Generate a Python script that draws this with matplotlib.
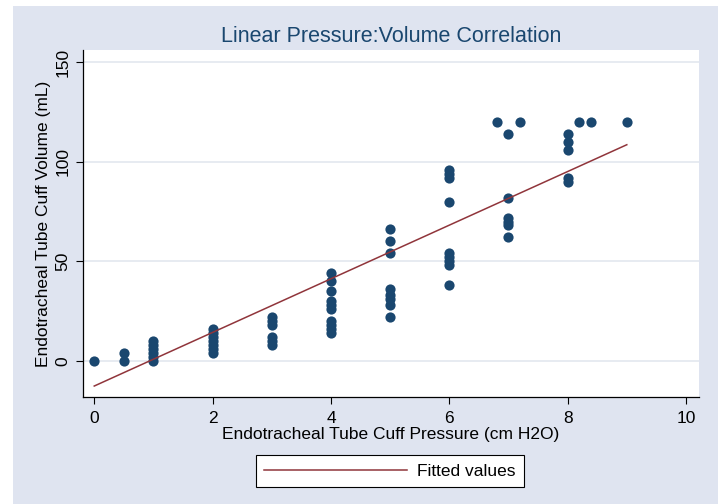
import numpy as np
import matplotlib
matplotlib.use("Agg")
import matplotlib.pyplot as plt
from matplotlib.patches import Rectangle
from matplotlib.lines import Line2D

plt.rcParams['font.family'] = ['Liberation Sans', 'DejaVu Sans']

# cuff pressure (cm H2O) and cuff volume (mL)
pressure = [0,
            0.5, 0.5,
            1, 1, 1, 1, 1, 1,
            2, 2, 2, 2, 2, 2, 2,
            3, 3, 3, 3, 3, 3,
            4, 4, 4, 4, 4, 4, 4, 4, 4, 4,
            5, 5, 5, 5, 5, 5, 5, 5,
            6, 6, 6, 6, 6, 6, 6, 6, 6,
            6.8,
            7, 7, 7, 7, 7, 7,
            7.2,
            8, 8, 8, 8, 8,
            8.2, 8.4, 9]
volume = [0,
          0, 4,
          0, 2, 4, 6, 8, 10,
          4, 6, 8, 10, 12, 14, 16,
          8, 10, 12, 18, 20, 22,
          14, 16, 18, 20, 26, 28, 30, 35, 40, 44,
          22, 28, 31, 33, 36, 54, 60, 66,
          38, 48, 50, 52, 54, 80, 92, 94, 96,
          120,
          62, 68, 70, 72, 82, 114,
          120,
          90, 92, 106, 110, 114,
          120, 120, 120]

# fitted line end points as drawn in the chart (the fit used duplicate
# points that overlap in the scatter, so it is read off, not refitted)
fit_pressure = [0, 9]
fit_volume = [-12.5, 108.5]

title = "Linear Pressure:Volume Correlation"
xlabel = "Endotracheal Tube Cuff Pressure (cm H2O)"
ylabel = "Endotracheal Tube Cuff Volume (mL)"
xticks = [0, 2, 4, 6, 8, 10]
yticks = [0, 50, 100, 150]

navy = "#1a476f"
maroon = "#90353b"
bg = "#dfe4f0"

fig = plt.figure(figsize=(7.18, 5.04), dpi=100, facecolor="white")
fig.patches.append(Rectangle((13 / 718, 0), 705 / 718, 498 / 504,
                             transform=fig.transFigure, facecolor=bg,
                             edgecolor="none", zorder=-10))

ax = fig.add_axes([83 / 718, 107 / 504, 616 / 718, 347 / 504])
ax.set_facecolor("white")

ax.scatter(pressure, volume, s=54, color=navy, zorder=3, linewidths=0)
ax.plot(fit_pressure, fit_volume, color=maroon, lw=1.1, zorder=4)

ax.set_xlim(-0.19, 10.22)
ax.set_ylim(-18, 156)
ax.set_xticks(xticks)
ax.set_yticks(yticks)
ax.set_yticklabels([str(t) for t in yticks], rotation=90, va="center")
ax.tick_params(axis="both", direction="out", length=5, width=0.8,
               labelsize=12.5, colors="black")
ax.tick_params(axis="x", pad=5)
ax.tick_params(axis="y", pad=4)
ax.grid(axis="y", color="#e3e7ef", lw=1.2, zorder=0)
ax.set_axisbelow(True)
for s in ["top", "right"]:
    ax.spines[s].set_visible(False)
for s in ["left", "bottom"]:
    ax.spines[s].set_color("black")
    ax.spines[s].set_linewidth(0.9)

ax.set_xlabel(xlabel, fontsize=12.5, labelpad=1)
ax.set_ylabel(ylabel, fontsize=12.5, labelpad=3)
fig.text(391 / 718, 1 - 36 / 504, title, ha="center", va="center",
         fontsize=15.5, color=navy)

handle = Line2D([], [], color=maroon, lw=1.1)
leg = fig.legend([handle], ["Fitted values"], loc="center",
                 bbox_to_anchor=(390 / 718, 1 - 471 / 504),
                 fontsize=12.5, handlelength=8.2, handletextpad=0.6,
                 borderpad=0.5, fancybox=False, framealpha=1,
                 edgecolor="black")
leg.get_frame().set_linewidth(0.8)

plt.savefig("out.png", dpi=100, facecolor=fig.get_facecolor())
